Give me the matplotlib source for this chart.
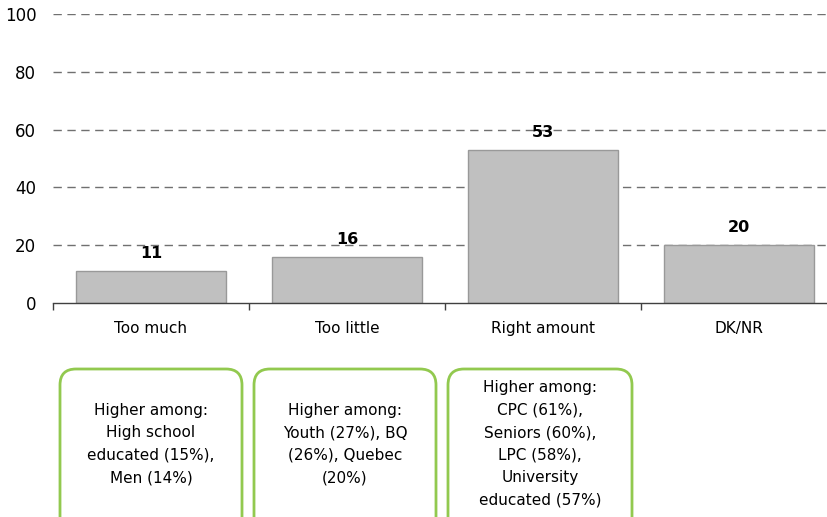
import matplotlib as mpl
mpl.use('Agg')
import matplotlib.pyplot as plt
from matplotlib.patches import FancyBboxPatch
import numpy as np

# data
categories = ['Too much', 'Too little', 'Right amount', 'DK/NR']
values = [11, 16, 53, 20]
yticks = [0, 20, 40, 60, 80, 100]
notes = ['Higher among:\nHigh school\neducated (15%),\nMen (14%)',
         'Higher among:\nYouth (27%), BQ\n(26%), Quebec\n(20%)',
         'Higher among:\nCPC (61%),\nSeniors (60%),\nLPC (58%),\nUniversity\neducated (57%)']

W, H, dpi = 827, 517, 100
plt.rcParams['font.family'] = ['DejaVu Sans']

fig = plt.figure(figsize=(W/dpi, H/dpi), dpi=dpi)

# overlay in pixel units for the note boxes
ov = fig.add_axes([0, 0, 1, 1], zorder=0)
ov.set_xlim(0, W)
ov.set_ylim(H, 0)
ov.set_axis_off()

# axes spans past the right edge like the original (cropped)
ax = fig.add_axes([53/W, (H-303)/H, 784/W, 289/H], zorder=1)
ax.patch.set_alpha(0)

x = np.arange(len(categories))
ax.bar(x, values, width=0.77, color='#c0c0c0', edgecolor='#999999',
       linewidth=1, zorder=2)
for xi, v in zip(x, values):
    ax.text(xi, v + 6, str(v), ha='center', va='center',
            fontsize=11.5, fontweight='bold', color='black', zorder=3)

ax.set_xlim(-0.5, len(categories) - 0.5)
ax.set_ylim(0, 100)
ax.set_yticks(yticks)
ax.set_yticklabels([str(t) for t in yticks], fontsize=12)
ax.tick_params(axis='y', length=0, pad=12)
ax.set_xticks(x)
ax.set_xticklabels(categories, fontsize=11)
ax.tick_params(axis='x', which='major', length=0, pad=13)
ax.set_xticks(np.arange(len(categories) + 1) - 0.5, minor=True)
ax.tick_params(axis='x', which='minor', length=5, width=1, color='#404040',
               direction='out')

for y in yticks[1:]:
    ax.axhline(y, color='#707070', linestyle=(0, (6, 4)), linewidth=1,
               zorder=1)

for s in ['top', 'right', 'left']:
    ax.spines[s].set_visible(False)
ax.spines['bottom'].set_color('#404040')
ax.spines['bottom'].set_linewidth(1)

# note boxes under the first three bars
boxes = [(60, 242), (254, 436), (448, 632)]
for (x0, x1), txt in zip(boxes, notes):
    box = FancyBboxPatch((x0, 369), x1 - x0, 170,
                         boxstyle='round,pad=0,rounding_size=16',
                         facecolor='white', edgecolor='#92c94f', linewidth=2)
    ov.add_patch(box)
    ov.text((x0 + x1)/2, 444, txt, ha='center', va='center',
            fontsize=11, linespacing=1.62, color='black')

fig.savefig('out.png', dpi=dpi)
